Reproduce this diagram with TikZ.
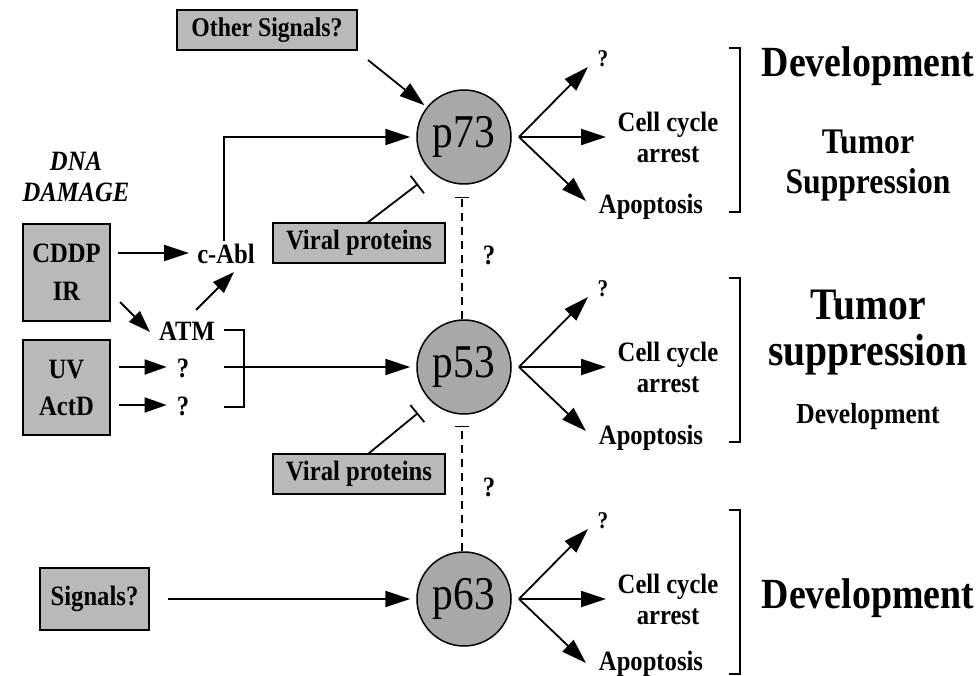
\documentclass[tikz,border=0pt]{standalone}
\usepackage{fontspec}
\setmainfont[FakeStretch=0.88]{Liberation Serif}
\usetikzlibrary{arrows.meta,calc}
\definecolor{boxgray}{HTML}{B9B9B9}
\definecolor{circgray}{HTML}{A8A8A8}
\begin{document}
\begin{tikzpicture}[x=1pt,y=-1pt,
  lbl/.style={font=\bfseries\fontsize{28}{32}\selectfont, inner sep=0pt},
  gbox/.style={draw, line width=1.6pt, fill=boxgray, inner sep=0pt, align=center},
  prot/.style={circle, draw, line width=1.5pt, fill=circgray, minimum size=94pt, inner sep=0pt, font=\fontsize{47}{47}\selectfont},
  arr/.style={line width=1.8pt, -{Triangle[length=25pt,width=16pt]}},
  sarr/.style={line width=1.8pt, -{Triangle[length=22pt,width=15pt]}},
  inhib/.style={line width=1.8pt, -{Bar[width=22pt,line width=1.8pt]}},
  dinhib/.style={line width=1.4pt, dash pattern=on 8pt off 6pt, -{Bar[width=14pt,line width=1.4pt]}},
  brk/.style={line width=1.6pt}]
\useasboundingbox (0,0) rectangle (979,676);

% proteins
\node[prot] (p73) at (464,137) {p73};
\node[prot] (p53) at (464,367) {p53};
\node[prot] (p63) at (464,599) {p63};

% other signals
\node[gbox, minimum width=180pt, minimum height=40pt, font=\bfseries\fontsize{27}{30}\selectfont] (other) at (267,30) {Other Signals?};
\coordinate (os) at (368,60);
\draw[arr, shorten >=3pt] (os) -- (p73);

% DNA damage
\node[lbl, font=\bfseries\itshape\fontsize{28}{31}\selectfont, align=center] (dna) at (76,177) {DNA\\DAMAGE};

\node[gbox, minimum width=87pt, minimum height=97pt, font=\bfseries\fontsize{28}{38}\selectfont] (b1) at (66.5,272.5) {CDDP\\IR};
\node[gbox, minimum width=87pt, minimum height=95pt, font=\bfseries\fontsize{28}{37}\selectfont] (b2) at (66.5,387.5) {UV\\ActD};

\node[lbl] (cabl) at (226,254) {c-Abl};
\node[lbl] (atm) at (187,331) {ATM};
\node[lbl] (qa) at (183,368) {?};
\node[lbl] (qb) at (183,406) {?};

\coordinate (cddps) at (118,253);
\draw[arr, shorten >=8pt] (cddps) -- (cddps -| cabl.west);
\coordinate (irs) at (120,302);
\coordinate (irt) at (150,332);
\draw[sarr] (irs) -- (irt);
\coordinate (atms) at (196,310);
\coordinate (atmt) at (234,272);
\draw[sarr] (atms) -- (atmt);
\coordinate (uvs) at (119,367);
\draw[sarr] (uvs) -- ($(qa.west)+(-10,-1)$);
\coordinate (ads) at (119,405);
\draw[sarr] (ads) -- ($(qb.west)+(-10,-1)$);

% c-Abl to p73
\draw[arr, shorten >=6pt] (cabl.north -| 224,0) ++(0,-3) |- (p73.west);

% ATM bracket to p53
\coordinate (bt) at (224,330);
\coordinate (bb) at (224,407);
\draw[brk] (bt) -- ++(20,0) |- (bb);
\coordinate (bm) at (224,367);
\draw[arr, shorten >=6pt] (bm) -- (p53.west);

% viral proteins
\node[gbox, minimum width=172pt, minimum height=40pt, font=\bfseries\fontsize{28}{30}\selectfont] (v1) at (359,243) {Viral proteins};
\node[gbox, minimum width=172pt, minimum height=40pt, font=\bfseries\fontsize{28}{30}\selectfont] (v2) at (359,474) {Viral proteins};
\coordinate (v1s) at (367,223);
\coordinate (v1t) at (418,184);
\draw[inhib] (v1s) -- (v1t);
\coordinate (v2s) at (368,454);
\coordinate (v2t) at (418,413);
\draw[inhib] (v2s) -- (v2t);

% dashed inhibitions
\coordinate (d1) at (462,197);
\coordinate (d2) at (462,426);
\draw[dinhib] (p53.north -| d1) -- (d1);
\draw[dinhib] (p63.north -| d2) -- (d2);
\node[lbl] (qd1) at (489,255) {?};
\node[lbl] (qd2) at (489,487) {?};

% signals -> p63
\node[gbox, minimum width=109pt, minimum height=62pt, font=\bfseries\fontsize{28}{30}\selectfont] (sig) at (94.5,599) {Signals?};
\draw[arr, shorten <=18pt, shorten >=6pt] (sig.east) -- (p63.west);

% outputs
\foreach \n/\y/\ab in {73/137/214,53/367/444,63/599/670}{
  \coordinate (br\n) at (519,\y);
  \node[lbl, font=\bfseries\fontsize{24}{26}\selectfont] (q\n) at (603,{\y-78}) {?};
  \node[lbl, align=center, font=\bfseries\fontsize{28}{31}\selectfont] (cc\n) at (668,{\y}) {Cell cycle\\arrest};
  \node[lbl, anchor=base, font=\bfseries\fontsize{28}{30}\selectfont] (ap\n) at (651,\ab) {Apoptosis};
  \coordinate (tu\n) at (588,{\y-70});
  \coordinate (tm\n) at (606,\y);
  \coordinate (td\n) at (586,{\y+64});
  \draw[arr] (br\n) -- (tu\n);
  \draw[arr] (br\n) -- (tm\n);
  \draw[arr] (br\n) -- (td\n);
  \draw[brk] (729,{\y-89}) -- (740,{\y-89}) -- (740,{\y+75}) -- (729,{\y+75});
}

% right labels
\node[lbl, font=\bfseries\fontsize{43}{46}\selectfont] (dev1) at (868,66) {Development};
\node[lbl, align=center, font=\bfseries\fontsize{36}{40}\selectfont] (ts1) at (868,166) {Tumor\\Suppression};
\node[lbl, align=center, font=\bfseries\fontsize{45}{46}\selectfont] (ts2) at (868,333) {Tumor\\suppression};
\node[lbl, font=\bfseries\fontsize{29}{30}\selectfont] (dev2) at (868,417) {Development};
\node[lbl, font=\bfseries\fontsize{43}{46}\selectfont] (dev3) at (868,598) {Development};
\end{tikzpicture}
\end{document}
